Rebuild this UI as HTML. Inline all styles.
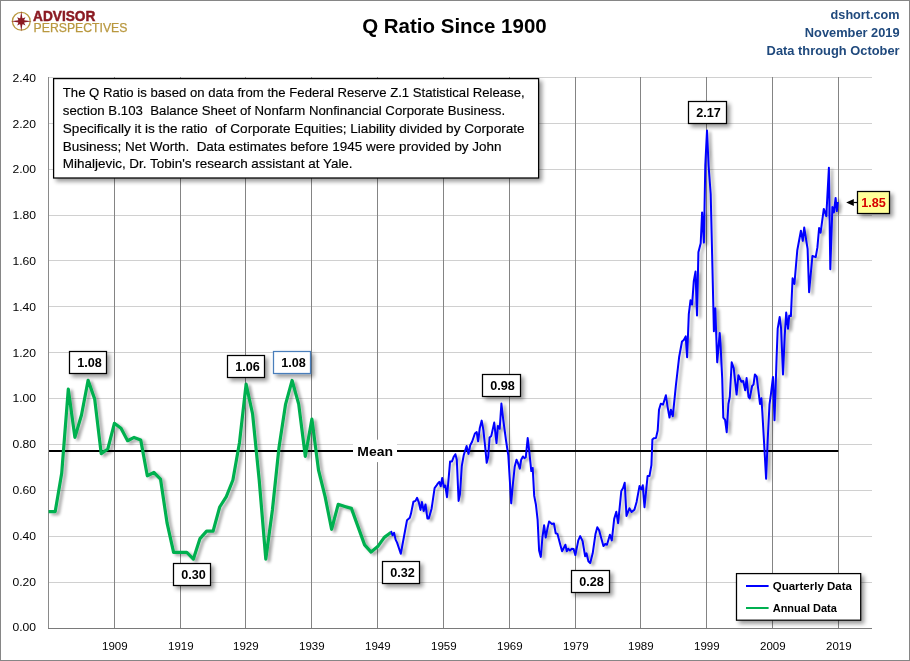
<!DOCTYPE html>
<html lang="en"><head><meta charset="utf-8"><title>Q Ratio Since 1900</title>
<style>
html,body{margin:0;padding:0;background:#fff;}
body{width:910px;height:661px;overflow:hidden;font-family:"Liberation Sans",sans-serif;}
svg{display:block;}
text{font-family:"Liberation Sans",sans-serif;}
.b{font-weight:bold;}
</style></head><body>
<svg width="910" height="661" viewBox="0 0 910 661">
<defs>
<filter id="sh" x="-20%" y="-20%" width="150%" height="160%"><feGaussianBlur in="SourceAlpha" stdDeviation="1.9"/><feOffset dx="2.6" dy="2.6" result="o"/><feComponentTransfer><feFuncA type="linear" slope="0.4"/></feComponentTransfer><feMerge><feMergeNode/><feMergeNode in="SourceGraphic"/></feMerge></filter>
<filter id="shl" x="-5%" y="-5%" width="110%" height="110%" filterUnits="userSpaceOnUse" ><feGaussianBlur in="SourceAlpha" stdDeviation="1.4"/><feOffset dx="2.6" dy="2.2"/><feComponentTransfer><feFuncA type="linear" slope="0.36"/></feComponentTransfer><feMerge><feMergeNode/><feMergeNode in="SourceGraphic"/></feMerge></filter>
</defs>
<rect x="0" y="0" width="910" height="661" fill="#fff"/>
<rect x="0.5" y="0.5" width="909" height="660" fill="none" stroke="#868686" stroke-width="1"/>

<g shape-rendering="crispEdges">
<rect x="49" y="77" width="823" height="1" fill="#d0d0d0"/>
<rect x="49" y="123" width="823" height="1" fill="#d0d0d0"/>
<rect x="49" y="169" width="823" height="1" fill="#d0d0d0"/>
<rect x="49" y="215" width="823" height="1" fill="#d0d0d0"/>
<rect x="49" y="260" width="823" height="1" fill="#d0d0d0"/>
<rect x="49" y="306" width="823" height="1" fill="#d0d0d0"/>
<rect x="49" y="352" width="823" height="1" fill="#d0d0d0"/>
<rect x="49" y="398" width="823" height="1" fill="#d0d0d0"/>
<rect x="49" y="444" width="823" height="1" fill="#d0d0d0"/>
<rect x="49" y="490" width="823" height="1" fill="#d0d0d0"/>
<rect x="49" y="536" width="823" height="1" fill="#d0d0d0"/>
<rect x="49" y="582" width="823" height="1" fill="#d0d0d0"/>
<rect x="114" y="77" width="1" height="551" fill="#848484"/>
<rect x="180" y="77" width="1" height="551" fill="#848484"/>
<rect x="245" y="77" width="1" height="551" fill="#848484"/>
<rect x="311" y="77" width="1" height="551" fill="#848484"/>
<rect x="377" y="77" width="1" height="551" fill="#848484"/>
<rect x="443" y="77" width="1" height="551" fill="#848484"/>
<rect x="509" y="77" width="1" height="551" fill="#848484"/>
<rect x="575" y="77" width="1" height="551" fill="#848484"/>
<rect x="640" y="77" width="1" height="551" fill="#848484"/>
<rect x="706" y="77" width="1" height="551" fill="#848484"/>
<rect x="772" y="77" width="1" height="551" fill="#848484"/>
<rect x="838" y="77" width="1" height="551" fill="#848484"/>
<rect x="48" y="77" width="1" height="552" fill="#8a8a8a"/>
<rect x="48" y="628" width="824" height="1" fill="#7a7a7a"/>
</g>
<text x="12.4" y="81.8" font-size="11.4" textLength="23.6" lengthAdjust="spacingAndGlyphs" fill="#000">2.40</text>
<text x="12.4" y="127.6" font-size="11.4" textLength="23.6" lengthAdjust="spacingAndGlyphs" fill="#000">2.20</text>
<text x="12.4" y="173.4" font-size="11.4" textLength="23.6" lengthAdjust="spacingAndGlyphs" fill="#000">2.00</text>
<text x="12.4" y="219.2" font-size="11.4" textLength="23.6" lengthAdjust="spacingAndGlyphs" fill="#000">1.80</text>
<text x="12.4" y="265.0" font-size="11.4" textLength="23.6" lengthAdjust="spacingAndGlyphs" fill="#000">1.60</text>
<text x="12.4" y="310.8" font-size="11.4" textLength="23.6" lengthAdjust="spacingAndGlyphs" fill="#000">1.40</text>
<text x="12.4" y="356.6" font-size="11.4" textLength="23.6" lengthAdjust="spacingAndGlyphs" fill="#000">1.20</text>
<text x="12.4" y="402.4" font-size="11.4" textLength="23.6" lengthAdjust="spacingAndGlyphs" fill="#000">1.00</text>
<text x="12.4" y="448.2" font-size="11.4" textLength="23.6" lengthAdjust="spacingAndGlyphs" fill="#000">0.80</text>
<text x="12.4" y="494.0" font-size="11.4" textLength="23.6" lengthAdjust="spacingAndGlyphs" fill="#000">0.60</text>
<text x="12.4" y="539.8" font-size="11.4" textLength="23.6" lengthAdjust="spacingAndGlyphs" fill="#000">0.40</text>
<text x="12.4" y="585.6" font-size="11.4" textLength="23.6" lengthAdjust="spacingAndGlyphs" fill="#000">0.20</text>
<text x="12.4" y="631.4" font-size="11.4" textLength="23.6" lengthAdjust="spacingAndGlyphs" fill="#000">0.00</text>
<text x="102.0" y="649.7" font-size="11.4" textLength="25.6" lengthAdjust="spacingAndGlyphs" fill="#000">1909</text>
<text x="168.0" y="649.7" font-size="11.4" textLength="25.6" lengthAdjust="spacingAndGlyphs" fill="#000">1919</text>
<text x="233.0" y="649.7" font-size="11.4" textLength="25.6" lengthAdjust="spacingAndGlyphs" fill="#000">1929</text>
<text x="299.0" y="649.7" font-size="11.4" textLength="25.6" lengthAdjust="spacingAndGlyphs" fill="#000">1939</text>
<text x="365.0" y="649.7" font-size="11.4" textLength="25.6" lengthAdjust="spacingAndGlyphs" fill="#000">1949</text>
<text x="431.0" y="649.7" font-size="11.4" textLength="25.6" lengthAdjust="spacingAndGlyphs" fill="#000">1959</text>
<text x="497.0" y="649.7" font-size="11.4" textLength="25.6" lengthAdjust="spacingAndGlyphs" fill="#000">1969</text>
<text x="563.0" y="649.7" font-size="11.4" textLength="25.6" lengthAdjust="spacingAndGlyphs" fill="#000">1979</text>
<text x="628.0" y="649.7" font-size="11.4" textLength="25.6" lengthAdjust="spacingAndGlyphs" fill="#000">1989</text>
<text x="694.0" y="649.7" font-size="11.4" textLength="25.6" lengthAdjust="spacingAndGlyphs" fill="#000">1999</text>
<text x="760.0" y="649.7" font-size="11.4" textLength="25.6" lengthAdjust="spacingAndGlyphs" fill="#000">2009</text>
<text x="826.0" y="649.7" font-size="11.4" textLength="25.6" lengthAdjust="spacingAndGlyphs" fill="#000">2019</text>
<rect x="49" y="450" width="789.3" height="2" fill="#000"/>
<g filter="url(#shl)" fill="none" stroke-linejoin="round" stroke-linecap="butt"><polyline points="48.6,511.6 55.2,511.6 61.7,473.3 68.3,389.1 74.9,437.4 81.5,415.0 88.1,380.3 94.7,399.1 101.2,453.6 107.8,449.0 114.4,423.3 121.0,428.3 127.6,440.7 134.1,437.4 140.7,439.9 147.3,475.8 153.9,472.5 160.5,479.1 167.1,523.2 173.6,552.4 180.2,552.4 186.8,552.4 193.4,559.1 200.0,538.6 206.6,531.1 213.1,531.1 219.7,507.0 226.3,496.6 232.9,480.0 239.5,442.5 246.1,384.1 252.6,414.0 259.2,480.0 265.8,559.1 272.4,510.0 279.0,447.4 285.6,404.1 292.1,380.5 298.7,404.1 305.3,456.3 311.9,419.1 318.5,470.0 325.1,496.6 331.6,529.3 338.2,504.3 344.8,506.4 351.4,508.4 358.0,526.6 364.6,544.9 371.1,552.1 377.7,546.6 384.3,537.4 390.9,532.5" stroke="#00b050" stroke-width="3.2"/><polyline points="390.9,532.5 391.3,531.7 392.5,535.3 394.1,532.9 395.6,539.6 397.1,542.6 400.8,553.7 407.0,520.2 409.8,517.8 411.0,513.6 413.4,501.7 415.5,500.9 417.1,497.8 418.9,502.7 420.5,509.9 421.9,502.1 423.7,511.1 425.5,504.5 427.4,518.4 428.8,518.4 431.6,508.7 434.6,488.2 436.4,485.7 437.9,483.4 439.3,481.9 440.7,486.2 442.2,478.0 443.9,487.0 445.3,485.5 447.0,497.2 450.1,461.4 452.0,461.4 453.7,456.8 455.4,454.2 456.8,459.7 458.6,500.9 460.0,494.0 461.8,466.0 463.7,455.3 466.6,446.0 468.5,453.9 470.2,445.3 472.1,441.7 474.9,433.5 476.7,432.1 478.1,441.3 479.8,428.0 481.7,420.6 483.4,430.2 485.3,448.2 486.7,462.8 488.2,456.8 489.6,437.4 491.3,435.9 494.2,422.6 496.5,443.1 497.9,425.9 499.7,428.8 501.4,403.6 503.2,419.4 506.1,441.0 508.3,455.3 509.8,480.0 511.2,503.3 512.8,485.0 514.7,466.8 516.5,459.7 518.3,464.0 519.8,468.6 521.2,459.7 522.9,456.5 524.4,458.2 525.8,457.1 527.7,438.1 529.4,452.5 531.3,471.1 532.7,468.0 534.2,495.9 535.9,504.5 537.6,519.6 539.1,550.5 540.8,556.9 542.4,537.5 544.1,525.3 545.7,537.5 547.4,528.9 549.1,521.4 551.7,523.9 553.9,523.4 555.7,533.2 557.5,533.9 560.3,544.7 562.1,551.2 565.4,544.7 566.8,551.2 568.2,548.7 570.0,550.5 571.8,548.7 573.6,549.0 575.4,555.1 578.3,540.4 580.2,536.1 582.6,541.1 585.1,556.2 586.5,553.3 588.4,561.2 590.2,563.0 592.7,553.3 595.5,533.9 597.3,527.2 599.1,530.3 603.4,546.1 605.2,544.0 607.0,544.7 609.9,534.7 611.8,540.4 614.2,518.9 616.3,511.8 618.1,523.2 621.3,491.0 623.1,488.0 624.7,482.7 626.5,515.9 629.4,508.3 631.6,511.9 634.4,509.8 636.6,501.9 639.5,486.1 641.2,489.4 642.8,485.3 644.5,507.2 647.6,476.0 649.5,476.0 651.4,465.2 652.4,439.4 653.8,438.2 656.0,437.9 657.7,430.5 659.0,409.7 660.8,403.7 663.0,404.7 665.9,395.3 667.6,406.8 669.5,417.6 670.9,409.7 672.8,416.2 675.9,385.3 679.1,357.3 682.0,341.5 683.8,340.0 685.7,336.4 687.1,357.3 688.8,314.0 690.5,300.3 692.1,304.6 693.8,280.9 695.5,271.6 697.0,315.4 698.4,252.2 700.7,243.3 702.1,212.4 703.9,242.6 705.3,165.0 707.0,130.5 708.6,166.0 710.7,194.0 712.3,262.0 713.9,331.2 715.3,308.2 717.2,362.3 719.7,333.0 720.5,343.6 722.2,378.1 723.3,417.6 725.1,419.8 726.7,432.2 728.4,404.0 729.8,396.8 731.7,362.3 733.7,368.0 736.6,394.6 738.4,375.2 741.3,381.7 743.2,381.0 745.2,390.3 746.6,378.1 748.5,396.8 749.7,398.5 752.1,386.0 753.5,384.6 754.9,374.5 756.7,376.7 760.0,404.0 761.4,398.2 762.3,411.6 764.5,450.0 766.1,478.8 767.7,440.0 769.5,404.4 770.9,394.3 773.0,376.9 774.5,420.2 776.6,357.5 777.7,328.7 779.7,317.0 781.1,328.7 783.0,374.4 784.7,335.9 786.2,312.6 788.0,328.7 789.2,315.8 790.9,316.1 791.6,300.0 792.6,278.2 794.4,284.0 797.3,250.2 800.9,230.8 802.8,240.9 804.2,227.5 807.6,248.8 809.1,292.2 812.4,256.0 815.7,257.1 817.4,247.4 819.1,228.0 820.6,232.7 823.8,208.9 826.3,216.1 828.9,167.7 830.3,269.2 832.4,207.1 833.9,212.5 835.6,197.9 836.8,211.1 837.8,201.8" stroke="#0000ff" stroke-width="2"/></g>
<rect x="353" y="439.7" width="44" height="22.4" fill="#fff"/>
<text class="b" x="357.3" y="455.8" font-size="12.3" textLength="35.6" lengthAdjust="spacingAndGlyphs">Mean</text>
<rect x="69.5" y="351.5" width="37" height="22" fill="#fff" stroke="#000" stroke-width="1.25" filter="url(#sh)"/>
<text class="b" x="77.3" y="366.9" font-size="12.8" textLength="24.6" lengthAdjust="spacingAndGlyphs" fill="#000">1.08</text>
<rect x="173.5" y="563.5" width="37" height="22" fill="#fff" stroke="#000" stroke-width="1.25" filter="url(#sh)"/>
<text class="b" x="181.3" y="578.9" font-size="12.8" textLength="24.6" lengthAdjust="spacingAndGlyphs" fill="#000">0.30</text>
<rect x="227.5" y="355.5" width="37" height="22" fill="#fff" stroke="#000" stroke-width="1.25" filter="url(#sh)"/>
<text class="b" x="235.3" y="370.9" font-size="12.8" textLength="24.6" lengthAdjust="spacingAndGlyphs" fill="#000">1.06</text>
<rect x="273.5" y="351.5" width="37" height="22" fill="#fff" stroke="#4a7ebb" stroke-width="1.25" filter="url(#sh)"/>
<text class="b" x="281.3" y="366.9" font-size="12.8" textLength="24.6" lengthAdjust="spacingAndGlyphs" fill="#000">1.08</text>
<rect x="382.5" y="561.5" width="37" height="22" fill="#fff" stroke="#000" stroke-width="1.25" filter="url(#sh)"/>
<text class="b" x="390.3" y="576.9" font-size="12.8" textLength="24.6" lengthAdjust="spacingAndGlyphs" fill="#000">0.32</text>
<rect x="482.5" y="374.5" width="38" height="22" fill="#fff" stroke="#000" stroke-width="1.25" filter="url(#sh)"/>
<text class="b" x="490.3" y="389.9" font-size="12.8" textLength="24.6" lengthAdjust="spacingAndGlyphs" fill="#000">0.98</text>
<rect x="571.5" y="570.5" width="38" height="22" fill="#fff" stroke="#000" stroke-width="1.25" filter="url(#sh)"/>
<text class="b" x="579.3" y="585.9" font-size="12.8" textLength="24.6" lengthAdjust="spacingAndGlyphs" fill="#000">0.28</text>
<rect x="688.5" y="101.5" width="38" height="22" fill="#fff" stroke="#000" stroke-width="1.25" filter="url(#sh)"/>
<text class="b" x="696.3" y="116.9" font-size="12.8" textLength="24.6" lengthAdjust="spacingAndGlyphs" fill="#000">2.17</text>
<rect x="857.5" y="191.5" width="32" height="22" fill="#ffff99" stroke="#000" stroke-width="1.25" filter="url(#sh)"/>
<text class="b" x="861.2" y="207" font-size="12.8" textLength="24.6" lengthAdjust="spacingAndGlyphs" fill="#d60000">1.85</text>
<path d="M846.2 202.5 L853.8 199 L853.8 206 Z" fill="#000"/><rect x="853.6" y="201.9" width="3.9" height="1.2" fill="#000"/>
<rect x="53.6" y="78.6" width="485" height="99.4" fill="#fff" stroke="#000" stroke-width="1.25" filter="url(#sh)"/>
<text x="62.8" y="96.8" font-size="12.9" textLength="461.8" lengthAdjust="spacingAndGlyphs" fill="#000" stroke="#000" stroke-width="0.15">The Q Ratio is based on data from the Federal Reserve Z.1 Statistical Release,</text>
<text x="62.8" y="114.6" font-size="12.9" textLength="442.3" lengthAdjust="spacingAndGlyphs" fill="#000" stroke="#000" stroke-width="0.15">section B.103&#160; Balance Sheet of Nonfarm Nonfinancial Corporate Business.</text>
<text x="62.8" y="132.5" font-size="12.9" textLength="461.8" lengthAdjust="spacingAndGlyphs" fill="#000" stroke="#000" stroke-width="0.15">Specifically it is the ratio&#160; of Corporate Equities; Liability divided by Corporate</text>
<text x="62.8" y="150.5" font-size="12.9" textLength="438.8" lengthAdjust="spacingAndGlyphs" fill="#000" stroke="#000" stroke-width="0.15">Business; Net Worth.&#160; Data estimates before 1945 were provided by John</text>
<text x="62.8" y="168.3" font-size="12.9" textLength="289.8" lengthAdjust="spacingAndGlyphs" fill="#000" stroke="#000" stroke-width="0.15">Mihaljevic, Dr. Tobin's research assistant at Yale.</text>
<text class="b" x="362.2" y="32.9" font-size="19.6" textLength="184.5" lengthAdjust="spacingAndGlyphs" fill="#000">Q Ratio Since 1900</text>
<text class="b" x="830.6" y="18.7" font-size="12.2" textLength="69" lengthAdjust="spacingAndGlyphs" fill="#1f497d">dshort.com</text>
<text class="b" x="804.8" y="36.6" font-size="12.2" textLength="94.8" lengthAdjust="spacingAndGlyphs" fill="#1f497d">November 2019</text>
<text class="b" x="766.6" y="54.6" font-size="12.2" textLength="133" lengthAdjust="spacingAndGlyphs" fill="#1f497d">Data through October</text>
<rect x="736.5" y="573.6" width="124.2" height="46.6" fill="#fff" stroke="#000" stroke-width="1.25" filter="url(#sh)"/>
<rect x="746" y="585" width="22.6" height="2" fill="#0000ff"/><rect x="746" y="607" width="22.6" height="2" fill="#00b050"/>
<text class="b" x="772.7" y="589.7" font-size="11.8" textLength="79.2" lengthAdjust="spacingAndGlyphs">Quarterly Data</text>
<text class="b" x="772.7" y="611.5" font-size="11.8" textLength="64.2" lengthAdjust="spacingAndGlyphs">Annual Data</text>
<g>
<circle cx="21.3" cy="21.3" r="8.9" fill="none" stroke="#b9983f" stroke-width="1.3"/>
<path d="M21.30 11.00 L22.41 18.62 L25.47 17.13 L23.98 20.19 L31.60 21.30 L23.98 22.41 L25.47 25.47 L22.41 23.98 L21.30 31.60 L20.19 23.98 L17.13 25.47 L18.62 22.41 L11.00 21.30 L18.62 20.19 L17.13 17.13 L20.19 18.62 Z" fill="#8b1a22"/>
<circle cx="21.3" cy="21.3" r="3.1" fill="#8b1a22"/>
<text class="b" x="33.1" y="20.7" font-size="14.2" textLength="62.2" lengthAdjust="spacingAndGlyphs" fill="#8b1a22" stroke="#8b1a22" stroke-width="0.45">ADVISOR</text>
<text x="33.6" y="31.6" font-size="13" textLength="93.8" lengthAdjust="spacingAndGlyphs" fill="#b9983f" stroke="#b9983f" stroke-width="0.25">PERSPECTIVES</text>
</g>
</svg></body></html>
